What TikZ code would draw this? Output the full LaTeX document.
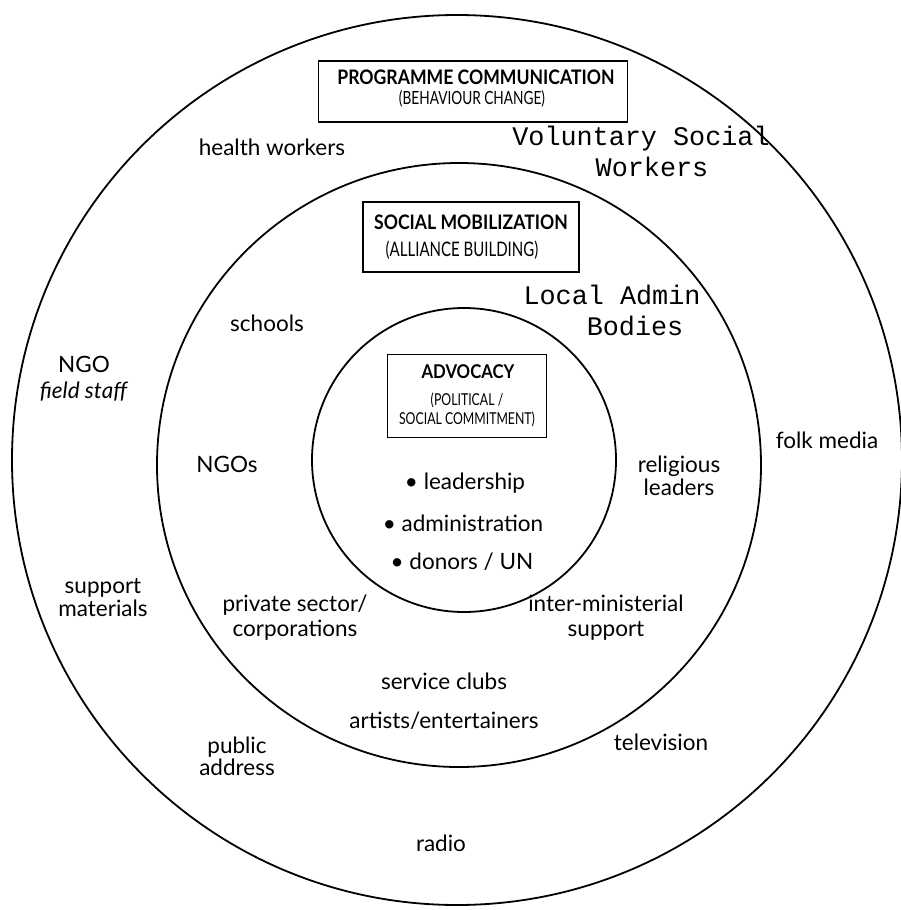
\documentclass[tikz,border=0pt]{standalone}
\usepackage{fontspec}
\usepackage{tikz}
\setmainfont{Lato}
\newfontfamily\ttlfont[FakeStretch=0.88]{Lato}
\newfontfamily\subfont[FakeStretch=0.75]{Lato}
\newfontfamily\twfont{Liberation Mono}

\begin{document}
\begin{tikzpicture}[x=1pt, y=-1pt,
    ring/.style={circle, draw, line width=1.8pt, inner sep=0pt},
    tbox/.style={rectangle, draw, line width=1.6pt, inner sep=0pt},
    ttl/.style={font=\ttlfont\bfseries\fontsize{20}{22}\selectfont, inner sep=0pt},
    sub/.style={font=\subfont\fontsize{18.2}{20}\selectfont, inner sep=0pt},
    lbl/.style={font=\fontsize{22.5}{25}\selectfont, align=center, inner sep=0pt},
    tw/.style={font=\twfont\fontsize{26.8}{29}\selectfont, inner sep=0pt}]

    \useasboundingbox (0,0) rectangle (901,910);

    % Circulos
    \node[ring, minimum size=890pt] (outer) at (457,460) {};
    \node[ring, minimum size=604pt] (middle) at (459,465) {};
    \node[ring, minimum size=304pt] (inner) at (464,460) {};

    % Programme communication
    \node[tbox, minimum width=309pt, minimum height=61pt] (pcbox) at (473,91.5) {};
    \node[ttl] (pc) at (476,77) {PROGRAMME COMMUNICATION};
    \node[sub] (pcsub) at (472,99) {(BEHAVIOUR CHANGE)};

    % Social mobilization
    \node[tbox, minimum width=216pt, minimum height=70pt] (smbox) at (471,237) {};
    \node[ttl] (sm) at (471,222) {SOCIAL MOBILIZATION};
    \node[sub, font=\subfont\fontsize{20}{22}\selectfont] (smsub) at (462,250) {(ALLIANCE BUILDING)};

    % Advocacy
    \node[tbox, minimum width=159pt, minimum height=83pt] (advbox) at (467,396) {};
    \node[ttl, font=\ttlfont\bfseries\fontsize{19}{21}\selectfont] (adv) at (468,372) {ADVOCACY};
    \node[sub, font=\subfont\fontsize{16.4}{18}\selectfont] (advsub1) at (467,400) {(POLITICAL /};
    \node[sub, font=\subfont\fontsize{16.4}{18}\selectfont] (advsub2) at (467,419) {SOCIAL COMMITMENT)};

    % Anillo exterior
    \node[lbl] (health) at (272,147) {health workers};
    \node[tw] (vol1) at (641,139) {Voluntary Social};
    \node[tw] (vol2) at (652,167) {Workers};
    \node[lbl, font=\fontsize{22.5}{26}\selectfont] (ngostaff) at (84,379) {NGO\\\textit{field staff}};
    \node[lbl] (folk) at (827,440) {folk media};
    \node[lbl, font=\fontsize{22.5}{23}\selectfont] (support) at (103,598) {support\\materials};
    \node[lbl, font=\fontsize{22.5}{22}\selectfont] (public) at (237,756) {public\\address};
    \node[lbl] (tv) at (661,742) {television};
    \node[lbl] (radio) at (441,843) {radio};

    % Anillo medio
    \node[tw] (local1) at (612,295) {Local Admin};
    \node[tw] (local2) at (635,326) {Bodies};
    \node[lbl] (schools) at (267,323) {schools};
    \node[lbl] (ngos) at (227,464) {NGOs};
    \node[lbl, font=\fontsize{22.5}{23}\selectfont] (relig) at (679,476) {religious\\leaders};
    \node[lbl] (private) at (295,618) {private sector/\\corporations};
    \node[lbl] (intermin) at (606,618) {inter-ministerial\\support};
    \node[lbl] (clubs) at (444,681) {service clubs};
    \node[lbl] (artists) at (444,721) {artists/entertainers};

    % Circulo interior
    \node[lbl] (lead) at (465,483) {\textbullet\ leadership};
    \node[lbl] (admin) at (463,523) {\textbullet\ administration};
    \node[lbl] (donors) at (462,562) {\textbullet\ donors / UN};

\end{tikzpicture}
\end{document}
